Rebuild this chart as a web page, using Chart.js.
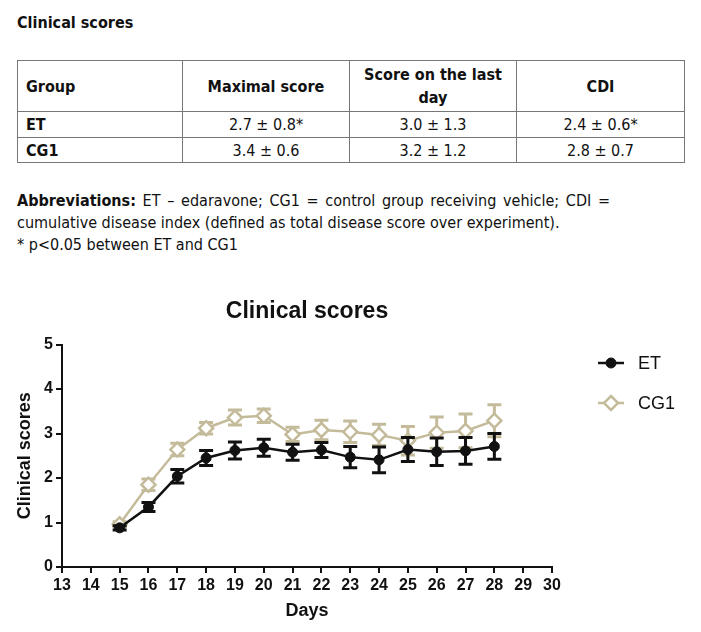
<!DOCTYPE html>
<html>
<head>
<meta charset="utf-8">
<script src="https://cdn.jsdelivr.net/npm/chart.js@4.4.0/dist/chart.umd.min.js"></script>
<style>
    html, body { margin: 0; padding: 0; background: #fff; }
    body { width: 701px; height: 632px; position: relative; overflow: hidden;
           font-family: "Liberation Sans Narrow", "DejaVu Sans Condensed", sans-serif; font-size: 16px; color: #111; }
    .heading { position: absolute; left: 17px; top: 13px; font-weight: bold; }
    table { position: absolute; left: 17px; top: 60px; width: 667px; border-collapse: collapse; table-layout: fixed; }
    td, th { border: 1px solid #777; padding: 0 8px; font-size: 16px; line-height: 23px; }
    th { font-weight: bold; text-align: center; height: 50px; }
    th.first, td.first { text-align: left; font-weight: bold; }
    td { text-align: center; }
    tr.r1 td { height: 25px; }
    tr.r2 td { height: 24px; }
    .notes { position: absolute; left: 17px; top: 190px; width: 593px; line-height: 22px; }
    .notes p { margin: 0; }
    .just { text-align: justify; text-align-last: justify; }
    #wrap { position: absolute; left: 0; top: 280px; width: 701px; height: 352px; }
</style>
</head>
<body>
<div class="heading">Clinical scores</div>
<table>
    <colgroup><col style="width:165px"><col style="width:167px"><col style="width:167px"><col style="width:168px"></colgroup>
    <tr><th class="first">Group</th><th>Maximal score</th><th>Score on the last<br>day</th><th>CDI</th></tr>
    <tr class="r1"><td class="first">ET</td><td>2.7 ± 0.8*</td><td>3.0 ± 1.3</td><td>2.4 ± 0.6*</td></tr>
    <tr class="r2"><td class="first">CG1</td><td>3.4 ± 0.6</td><td>3.2 ± 1.2</td><td>2.8 ± 0.7</td></tr>
</table>
<div class="notes">
    <p class="just"><b>Abbreviations:</b> ET – edaravone; CG1 = control group receiving vehicle; CDI =</p>
    <p>cumulative disease index (defined as total disease score over experiment).</p>
    <p>* p&lt;0.05 between ET and CG1</p>
</div>
<div id="wrap"><canvas id="scoreChart" width="701" height="352"></canvas></div>
<script>
// clinical scores, mean ± SEM per day
const days = [15, 16, 17, 18, 19, 20, 21, 22, 23, 24, 25, 26, 27, 28];
const etMean = [0.88, 1.35, 2.04, 2.45, 2.62, 2.68, 2.58, 2.63, 2.47, 2.41, 2.64, 2.59, 2.61, 2.71];
const etErr = [0.05, 0.10, 0.15, 0.17, 0.19, 0.19, 0.18, 0.17, 0.24, 0.29, 0.27, 0.31, 0.30, 0.29];
const cgMean = [0.96, 1.85, 2.64, 3.12, 3.36, 3.40, 2.98, 3.08, 3.04, 2.97, 2.84, 3.02, 3.06, 3.29];
const cgErr = [0.06, 0.13, 0.14, 0.13, 0.17, 0.15, 0.16, 0.22, 0.24, 0.24, 0.32, 0.35, 0.38, 0.36];
const seriesNames = ['ET', 'CG1'];
const yTicks = [0, 1, 2, 3, 4, 5];

const BLACK = '#111111';
const TAN = '#c4bb9b';

function pts(means) {
    return days.map((d, i) => ({ x: d, y: means[i] }));
}

// error bars drawn just before each dataset so ET sits over CG1
const errorBars = {
    id: 'errorBars',
    beforeDatasetDraw(chart, args) {
        const ds = chart.data.datasets[args.index];
        const errs = ds.errors;
        if (!errs) return;
        const xs = chart.scales.x, ys = chart.scales.y;
        const ctx = chart.ctx;
        ctx.save();
        ctx.strokeStyle = ds.borderColor;
        ctx.lineWidth = 3;
        ds.data.forEach((p, i) => {
            const x = xs.getPixelForValue(p.x);
            const top = ys.getPixelForValue(p.y + errs[i]);
            const bot = ys.getPixelForValue(p.y - errs[i]);
            ctx.beginPath();
            ctx.moveTo(x, top); ctx.lineTo(x, bot);
            ctx.moveTo(x - 7, top); ctx.lineTo(x + 7, top);
            ctx.moveTo(x - 7, bot); ctx.lineTo(x + 7, bot);
            ctx.stroke();
        });
        ctx.restore();
    }
};

// legend on the right: short line with the marker, then the name
const sideLegend = {
    id: 'sideLegend',
    afterDraw(chart) {
        const ctx = chart.ctx;
        const rows = [83, 123];
        chart.data.datasets.forEach((ds, i) => {
            const y = rows[i];
            ctx.save();
            ctx.strokeStyle = ds.borderColor;
            ctx.lineWidth = 2.5;
            ctx.beginPath();
            ctx.moveTo(598, y); ctx.lineTo(624, y);
            ctx.stroke();
            ctx.fillStyle = ds.pointBackgroundColor;
            ctx.strokeStyle = ds.borderColor;
            ctx.lineWidth = ds.pointBorderWidth;
            ctx.beginPath();
            if (ds.pointStyle === 'circle') {
                ctx.arc(611, y, ds.pointRadius, 0, Math.PI * 2);
            } else {
                const r = ds.pointRadius;
                ctx.moveTo(611, y - r); ctx.lineTo(611 + r, y); ctx.lineTo(611, y + r); ctx.lineTo(611 - r, y); ctx.closePath();
            }
            ctx.fill(); ctx.stroke();
            ctx.fillStyle = '#111';
            ctx.font = '18px "Liberation Sans", Arial, sans-serif';
            ctx.textBaseline = 'middle';
            ctx.fillText(ds.label, 638, y + 1);
            ctx.restore();
        });
    }
};

const axisFont = { family: '"Liberation Sans", Arial, sans-serif', weight: 'bold', size: 16 };

new Chart(document.getElementById('scoreChart'), {
    type: 'line',
    data: {
        datasets: [
            {
                label: seriesNames[0],
                data: pts(etMean),
                errors: etErr,
                borderColor: BLACK,
                backgroundColor: BLACK,
                pointBackgroundColor: BLACK,
                pointBorderColor: BLACK,
                pointStyle: 'circle',
                pointRadius: 5,
                pointBorderWidth: 1,
                borderWidth: 2.5,
                tension: 0
            },
            {
                label: seriesNames[1],
                data: pts(cgMean),
                errors: cgErr,
                borderColor: TAN,
                backgroundColor: '#fff',
                pointBackgroundColor: '#fff',
                pointBorderColor: TAN,
                pointStyle: 'rectRot',
                pointRadius: 7,
                pointBorderWidth: 2.5,
                borderWidth: 2.5,
                tension: 0
            }
        ]
    },
    options: {
        responsive: false,
        animation: false,
        layout: { padding: { left: 0, right: 149, top: 0, bottom: 0 } },
        plugins: {
            legend: { display: false },
            tooltip: { enabled: false },
            title: {
                display: true,
                fullSize: false,
                text: 'Clinical scores',
                color: '#111',
                font: { family: '"Liberation Sans", Arial, sans-serif', weight: 'bold', size: 23 },
                padding: { top: 18, bottom: 19 }
            }
        },
        scales: {
            x: {
                type: 'linear',
                min: 13,
                max: 30,
                afterFit(scale) { scale.height = 65; },
                ticks: { stepSize: 1, color: '#111', font: axisFont, padding: 3, maxRotation: 0, autoSkip: false },
                grid: { display: true, drawOnChartArea: false, drawTicks: true, tickLength: 6, color: '#111', lineWidth: 2 },
                border: { display: true, color: '#111', width: 2 },
                title: {
                    display: true, text: 'Days', color: '#111',
                    font: { family: '"Liberation Sans", Arial, sans-serif', weight: 'bold', size: 18 },
                    padding: { top: 4, bottom: 10 }
                }
            },
            y: {
                min: 0,
                max: 5,
                afterFit(scale) { scale.width = 62; },
                afterBuildTicks(scale) { scale.ticks = yTicks.map(v => ({ value: v })); },
                ticks: { color: '#111', font: axisFont, padding: 3 },
                grid: { display: true, drawOnChartArea: false, drawTicks: true, tickLength: 6, color: '#111', lineWidth: 2 },
                border: { display: true, color: '#111', width: 2 },
                title: {
                    display: true, text: 'Clinical scores', color: '#111',
                    font: { family: '"Liberation Sans", Arial, sans-serif', weight: 'bold', size: 18 },
                    padding: { top: 14, bottom: 0 }
                }
            }
        }
    },
    plugins: [errorBars, sideLegend]
});
</script>
</body>
</html>
